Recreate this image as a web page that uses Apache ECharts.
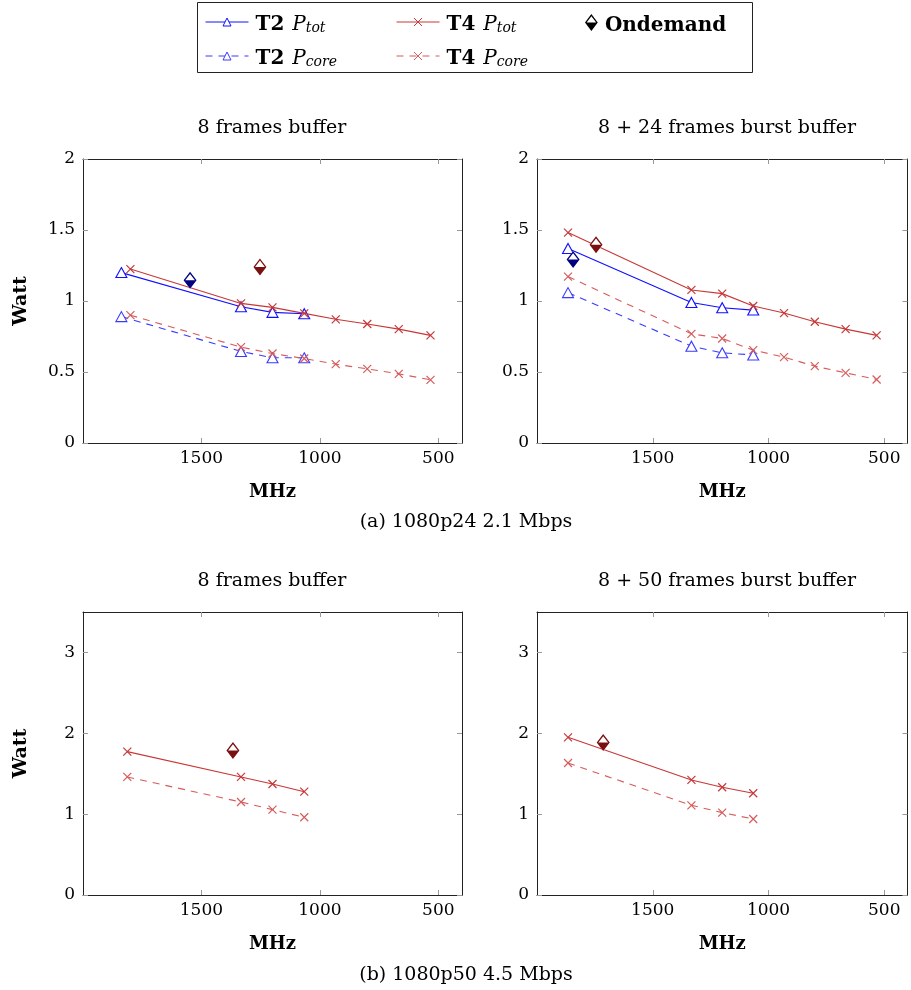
<!DOCTYPE html>
<html>
<head>
<meta charset="utf-8">
<script src="https://cdn.jsdelivr.net/npm/echarts@6/dist/echarts.min.js"></script>
<style>html,body{margin:0;padding:0;background:#fff}#c{width:911px;height:990px}</style>
</head>
<body>
<div id="c"></div>
<script>
// ---------- data ----------
// Panel (a) left: 8 frames buffer
const a1T2Freq = [1838, 1333, 1200, 1066];
const a1T2Tot  = [1.20, 0.96, 0.92, 0.91];
const a1T2Core = [0.89, 0.645, 0.60, 0.60];
const a1T4Freq = [1800, 1333, 1200, 1066, 933, 800, 667, 533];
const a1T4Tot  = [1.225, 0.983, 0.955, 0.913, 0.871, 0.838, 0.802, 0.758];
const a1T4Core = [0.90, 0.675, 0.63, 0.595, 0.555, 0.522, 0.487, 0.445];
const a1OnT2 = [1548, 1.146];
const a1OnT4 = [1253, 1.24];
// Panel (a) right: 8 + 24 frames burst buffer
const a2T2Freq = [1866, 1333, 1200, 1066];
const a2T2Tot  = [1.37, 0.99, 0.953, 0.936];
const a2T2Core = [1.059, 0.682, 0.635, 0.62];
const a2T4Freq = [1866, 1333, 1200, 1066, 933, 800, 667, 533];
const a2T4Tot  = [1.482, 1.078, 1.052, 0.965, 0.915, 0.854, 0.802, 0.758];
const a2T4Core = [1.172, 0.769, 0.736, 0.654, 0.605, 0.541, 0.494, 0.447];
const a2OnT2 = [1844, 1.292];
const a2OnT4 = [1745, 1.396];
// Panel (b) left: 8 frames buffer
const b1T4Freq = [1813, 1333, 1200, 1066];
const b1T4Tot  = [1.773, 1.46, 1.373, 1.278];
const b1T4Core = [1.46, 1.15, 1.056, 0.961];
const b1OnT4 = [1367, 1.786];
// Panel (b) right: 8 + 50 frames burst buffer
const b2T4Freq = [1866, 1333, 1200, 1066];
const b2T4Tot  = [1.95, 1.423, 1.332, 1.258];
const b2T4Core = [1.633, 1.109, 1.019, 0.94];
const b2OnT4 = [1714, 1.885];

const panelTitles = ['8 frames buffer', '8 + 24 frames burst buffer', '8 frames buffer', '8 + 50 frames burst buffer'];
const captions = ['(a) 1080p24 2.1 Mbps', '(b) 1080p50 4.5 Mbps'];
const xTicks = [500, 1000, 1500];
const yTicksA = [0, 0.5, 1, 1.5, 2];
const yTicksB = [0, 1, 2, 3];

// ---------- styling ----------
const FONT = 'DejaVu Serif';
const BLUE = '#1010ff', BLUE_L = '#3a3aff';
const RED = '#c83737', RED_L = '#d65c5c';
const NAVY = '#000080', DRED = '#7a1010';
const X_PATH = 'path://M0,0L10,10M10,0L0,10';
const HALF_DIAMOND = 'path://M6,0L12,8L6,16L0,8Z M6,2L1.5,8L6,14L10.5,8Z M0,8L12,8L6,16Z';

const grids = [
  {left: 83, top: 159, width: 379, height: 284},
  {left: 537, top: 159, width: 379, height: 284},
  {left: 83, top: 612, width: 379, height: 283},
  {left: 537, top: 612, width: 379, height: 283}
];

const tickStyle = {show: true, inside: true, length: 5, lineStyle: {color: '#999', width: 1}};
const lineAx = {show: true, onZero: false, lineStyle: {color: '#222', width: 1}};

const xAxes = [], yAxes = [];
grids.forEach((g, i) => {
  const yt = i < 2 ? yTicksA : yTicksB;
  const ymax = i < 2 ? 2 : 3.5;
  xAxes.push({
    gridIndex: i, type: 'value', inverse: true, min: 400, max: 2000, position: 'bottom',
    axisLine: lineAx, splitLine: {show: false},
    axisTick: Object.assign({customValues: xTicks}, tickStyle),
    axisLabel: {customValues: xTicks, formatter: v => String(v), fontFamily: FONT, fontSize: 17, color: '#000', margin: 7},
    name: 'MHz', nameLocation: 'middle', nameGap: 40,
    nameTextStyle: {fontFamily: FONT, fontSize: 18, color: '#000', fontWeight: 'bold'}
  });
  xAxes.push({
    gridIndex: i, type: 'value', inverse: true, min: 400, max: 2000, position: 'top',
    axisLine: lineAx, splitLine: {show: false},
    axisTick: Object.assign({customValues: xTicks}, tickStyle),
    axisLabel: {show: false}
  });
  yAxes.push(Object.assign({
    gridIndex: i, type: 'value', min: 0, max: ymax, position: 'left',
    axisLine: lineAx, splitLine: {show: false},
    axisTick: Object.assign({customValues: yt}, tickStyle),
    axisLabel: {customValues: yt, formatter: v => String(v), fontFamily: FONT, fontSize: 17, color: '#000', margin: 8}
  }, (i % 2 === 0) ? {
    name: 'Watt', nameLocation: 'middle', nameGap: 52,
    nameTextStyle: {fontFamily: FONT, fontSize: 19, color: '#000', fontWeight: 'bold'}
  } : {}));
  yAxes.push({
    gridIndex: i, type: 'value', min: 0, max: ymax, position: 'right',
    axisLine: lineAx, splitLine: {show: false},
    axisTick: Object.assign({customValues: yt}, tickStyle),
    axisLabel: {show: false}
  });
});

function zip(xs, ys) { return xs.map((x, k) => [x, ys[k]]); }

function t2Series(name, gi, xs, ys, dashed) {
  const c = dashed ? BLUE_L : BLUE;
  return {
    name: name, type: 'line', xAxisIndex: gi * 2, yAxisIndex: gi * 2,
    data: zip(xs, ys), symbol: 'triangle', symbolSize: [11, 10],
    itemStyle: {color: '#fff', borderColor: c, borderWidth: 1.1},
    lineStyle: {color: c, width: 1.1, type: dashed ? [7, 6] : 'solid'},
    z: 3, animation: false
  };
}
function t4Series(name, gi, xs, ys, dashed) {
  const c = dashed ? RED_L : RED;
  return {
    name: name, type: 'line', xAxisIndex: gi * 2, yAxisIndex: gi * 2,
    data: zip(xs, ys), symbol: X_PATH, symbolSize: 8,
    itemStyle: {color: c, borderColor: c, borderWidth: 1.2},
    lineStyle: {color: c, width: 1.1, type: dashed ? [7, 6] : 'solid'},
    z: 4, animation: false
  };
}
function onSeries(gi, pts) {
  return [{
    name: 'OndemandBg', type: 'scatter', xAxisIndex: gi * 2, yAxisIndex: gi * 2,
    data: pts.map(p => ({value: p[0]})), symbol: 'diamond', symbolSize: [13, 17],
    itemStyle: {color: '#fff', opacity: 1}, z: 5, animation: false, silent: true
  }, {
    name: 'Ondemand', type: 'scatter', xAxisIndex: gi * 2, yAxisIndex: gi * 2,
    data: pts.map(p => ({value: p[0], itemStyle: {color: p[1], opacity: 1}})),
    itemStyle: {opacity: 1},
    symbol: HALF_DIAMOND, symbolSize: [13, 17], z: 6, animation: false
  }];
}

const series = [
  t2Series('T2 Ptot', 0, a1T2Freq, a1T2Tot, false),
  t2Series('T2 Pcore', 0, a1T2Freq, a1T2Core, true),
  t4Series('T4 Ptot', 0, a1T4Freq, a1T4Tot, false),
  t4Series('T4 Pcore', 0, a1T4Freq, a1T4Core, true),
  ...onSeries(0, [[a1OnT2, NAVY], [a1OnT4, DRED]]),
  t2Series('T2 Ptot', 1, a2T2Freq, a2T2Tot, false),
  t2Series('T2 Pcore', 1, a2T2Freq, a2T2Core, true),
  t4Series('T4 Ptot', 1, a2T4Freq, a2T4Tot, false),
  t4Series('T4 Pcore', 1, a2T4Freq, a2T4Core, true),
  ...onSeries(1, [[a2OnT2, NAVY], [a2OnT4, DRED]]),
  t4Series('T4 Ptot', 2, b1T4Freq, b1T4Tot, false),
  t4Series('T4 Pcore', 2, b1T4Freq, b1T4Core, true),
  ...onSeries(2, [[b1OnT4, DRED]]),
  t4Series('T4 Ptot', 3, b2T4Freq, b2T4Tot, false),
  t4Series('T4 Pcore', 3, b2T4Freq, b2T4Core, true),
  ...onSeries(3, [[b2OnT4, DRED]])
];

const rich = {
  b: {fontFamily: FONT, fontWeight: 'bold', fontSize: 20, color: '#000', lineHeight: 26, verticalAlign: 'bottom'},
  sp: {fontFamily: FONT, fontSize: 20, color: '#000', lineHeight: 26, verticalAlign: 'bottom', width: 8},
  i: {fontFamily: FONT, fontStyle: 'italic', fontSize: 20, color: '#000', lineHeight: 26, verticalAlign: 'bottom'},
  s: {fontFamily: FONT, fontStyle: 'italic', fontSize: 14, color: '#000', lineHeight: 15, verticalAlign: 'bottom'}
};
function legendFmt(n) {
  if (n === 'Ondemand') return '{b|Ondemand}';
  const parts = n.split(' ');
  return '{b|' + parts[0] + '}{sp| }{i|P}{s|' + parts[1].slice(1) + '}';
}
const legendBase = {
  orient: 'vertical', top: 15, padding: 0, itemGap: 14, itemWidth: 43, itemHeight: 10,
  selectedMode: false, formatter: legendFmt,
  lineStyle: {width: 1}, itemStyle: {borderWidth: 1},
  textStyle: {rich: rich, padding: [0, 0, 0, 2]}
};
const legends = [
  Object.assign({}, legendBase, {left: 205, data: ['T2 Ptot', 'T2 Pcore']}),
  Object.assign({}, legendBase, {left: 396, data: ['T4 Ptot', 'T4 Pcore']}),
  Object.assign({}, legendBase, {left: 585, itemWidth: 13, itemHeight: 17, top: 14,
    data: [{name: 'Ondemand', icon: HALF_DIAMOND, itemStyle: {color: '#000', opacity: 1, borderWidth: 0}}]})
];

const titleCenters = [[272, 128], [727, 128], [272, 581], [727, 581]];
const graphics = [
  {type: 'rect', shape: {x: 197.5, y: 2.5, width: 555, height: 70},
   style: {fill: 'none', stroke: '#222', lineWidth: 1}, z: 0}
];
panelTitles.forEach((t, i) => graphics.push({
  type: 'text', x: titleCenters[i][0], y: titleCenters[i][1],
  style: {text: t, fontFamily: FONT, fontSize: 19, fill: '#000', align: 'center', verticalAlign: 'middle'}
}));
[[466, 522], [466, 975]].forEach((p, i) => graphics.push({
  type: 'text', x: p[0], y: p[1],
  style: {text: captions[i], fontFamily: FONT, fontSize: 19, fill: '#000', align: 'center', verticalAlign: 'middle'}
}));

const chart = echarts.init(document.getElementById('c'), null, {renderer: 'canvas'});
chart.setOption({
  backgroundColor: '#fff',
  animation: false,
  grid: grids,
  xAxis: xAxes,
  yAxis: yAxes,
  legend: legends,
  series: series,
  graphic: graphics
});
</script>
</body>
</html>
